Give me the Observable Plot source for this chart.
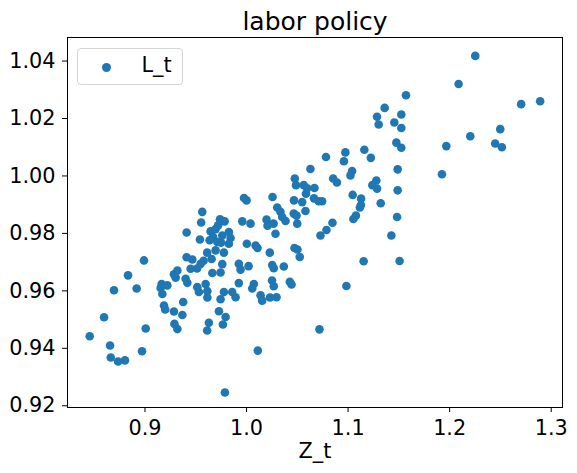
<!DOCTYPE html>
<html>
<head>
<meta charset="utf-8">
<script src="https://cdn.jsdelivr.net/npm/d3@7"></script>
<script src="https://cdn.jsdelivr.net/npm/@observablehq/plot@0.6"></script>
<style>
  html, body { margin: 0; padding: 0; background: #fff; }
  #wrap { position: relative; width: 577px; height: 473px; font-family: "DejaVu Sans", sans-serif; }
  #legend { position: absolute; left: 77px; top: 48px; width: 106px; height: 37px; box-sizing: border-box;
            border: 1px solid #d4d4d4; border-radius: 4px; background: rgba(255,255,255,0.8); z-index: 2; }
  #legend .mk { position: absolute; left: 24px; top: 13.5px; width: 9px; height: 9px; border-radius: 50%; background: #1f77b4; }
  #legend .lb { position: absolute; left: 63.5px; top: 6px; font-size: 20.8px; line-height: 1; color: #000; white-space: nowrap; }
</style>
</head>
<body>
<div id="wrap"><div id="legend"><div class="mk"></div><div class="lb"></div></div></div>
<script>
const title = "labor policy";
const xLabel = "Z_t";
const seriesName = "L_t";
const xTicks = [0.9, 1.0, 1.1, 1.2, 1.3];
const yTicks = [0.92, 0.94, 0.96, 0.98, 1.00, 1.02, 1.04];

const Z = [
0.8456,0.8597,0.8656,0.8663,0.8735,0.8803,0.8695,0.8833,0.8918,0.8971,
0.8990,0.9007,0.9164,0.9154,0.9171,0.9220,0.9187,0.9199,0.9285,0.9368,
0.9376,0.9290,0.9319,0.9285,0.9319,0.9302,0.9400,0.9417,0.9410,0.9466,
0.9449,0.9513,0.9515,0.9531,0.9410,0.9541,0.9564,0.9553,0.9548,0.9577,
0.9656,0.9612,0.9695,0.9777,0.9597,0.9614,0.9614,0.9629,0.9612,0.9663,
0.9744,0.9761,0.9728,0.9794,0.9767,0.9744,0.9777,0.9859,0.9892,0.9787,
0.9646,0.9695,0.9671,0.9761,0.9826,0.9843,0.9826,0.9749,0.9636,0.9712,
0.9739,0.9784,0.9720,0.9924,0.9941,1.0020,0.9924,1.0072,1.0056,0.9975,
1.0000,0.9958,1.0039,1.0003,1.0089,1.0108,1.0111,1.0138,1.0154,1.0231,
1.0295,1.0251,1.0268,1.0426,1.0443,1.0253,1.0268,1.0367,1.0229,1.0285,
1.0197,1.0207,1.0266,1.0256,1.0302,1.0334,1.0351,1.0384,1.0465,1.0492,
1.0499,1.0467,1.0475,1.0487,1.0472,1.0501,1.0524,1.0563,1.0597,1.0585,
1.0669,1.0548,1.0580,1.0664,1.0711,1.0744,1.0629,1.0782,1.0853,1.0890,
1.0846,1.0787,1.0728,1.0718,1.0983,1.0973,1.0959,1.1039,1.1023,1.1045,
1.1128,1.1126,1.1116,1.1077,1.1052,1.1153,1.1160,1.1224,1.1278,1.1239,
1.1285,1.1321,1.1426,1.1482,1.1488,1.1488,1.1507,1.1475,1.1524,1.1455,
1.1524,1.1524,1.1570,1.1360,1.1285,1.1301,1.1924,1.1967,1.2088,1.2203,
1.2252,1.2448,1.2514,1.2498,1.2704,1.2891
];
const L = [
0.9442,0.9508,0.9410,0.9368,0.9354,0.9358,0.9602,0.9654,0.9608,0.9390,
0.9706,0.9469,0.9624,0.9610,0.9589,0.9619,0.9549,0.9535,0.9528,0.9516,
0.9561,0.9485,0.9467,0.9658,0.9671,0.9646,0.9642,0.9628,0.9717,0.9709,
0.9677,0.9678,0.9613,0.9596,0.9803,0.9779,0.9875,0.9838,0.9694,0.9705,
0.9711,0.9733,0.9741,0.9733,0.9624,0.9599,0.9577,0.9489,0.9462,0.9662,
0.9664,0.9693,0.9529,0.9509,0.9483,0.9571,0.9596,0.9596,0.9578,0.9246,
0.9807,0.9815,0.9787,0.9793,0.9805,0.9784,0.9764,0.9768,0.9776,0.9770,
0.9849,0.9842,0.9828,0.9694,0.9674,0.9686,0.9627,0.9624,0.9608,0.9923,
0.9915,0.9842,0.9834,0.9764,0.9758,0.9749,0.9392,0.9585,0.9566,0.9577,
0.9578,0.9636,0.9616,0.9632,0.9622,0.9690,0.9679,0.9685,0.9733,0.9799,
0.9848,0.9827,0.9834,0.9927,0.9890,0.9875,0.9857,0.9843,0.9869,0.9862,
0.9834,0.9915,0.9991,0.9968,0.9749,0.9744,0.9718,0.9968,0.9957,0.9938,
0.9958,0.9909,0.9878,0.9922,0.9912,0.9912,1.0024,1.0066,0.9991,0.9977,
0.9837,0.9812,0.9793,0.9466,0.9617,1.0082,1.0051,1.0017,1.0002,0.9934,
0.9921,0.9899,0.9890,0.9862,0.9850,0.9703,1.0091,1.0063,0.9984,0.9968,
0.9956,0.9905,0.9793,0.9857,0.9950,1.0023,0.9704,1.0116,1.0098,1.0186,
1.0214,1.0167,1.0281,1.0237,1.0206,1.0179,1.0006,1.0104,1.0320,1.0138,
1.0418,1.0113,1.0100,1.0163,1.0250,1.0260
];

const data = Z.map((z, i) => ({Z: z, L: L[i]}));

const chart = Plot.plot({
  width: 577,
  height: 473,
  marginLeft: 67,
  marginRight: 15,
  marginTop: 37,
  marginBottom: 66,
  style: { fontFamily: "DejaVu Sans, sans-serif", fontSize: "20.8px", color: "#000", background: "#fff" },
  x: { domain: [0.8237, 1.3111], label: null },
  y: { domain: [0.9194, 1.0482], label: null },
  marks: [
    Plot.dot(data, { x: "Z", y: "L", r: 4.3, fill: "#1f77b4", stroke: "none" }),
    Plot.frame({ stroke: "#000", strokeWidth: 1 }),
    Plot.axisX({ ticks: xTicks, tickFormat: d3.format(".1f"), tickSize: 5, tickPadding: 8, fontSize: 20.8, stroke: "#000" }),
    Plot.axisY({ ticks: yTicks, tickFormat: d3.format(".2f"), tickSize: 5, tickPadding: 7, fontSize: 20.8, stroke: "#000" }),
    Plot.text([xLabel], { frameAnchor: "bottom", lineAnchor: "bottom", dy: 50, fontSize: 20.8, fill: "#000" }),
    Plot.text([title], { frameAnchor: "top", lineAnchor: "bottom", dy: -8, fontSize: 25, fill: "#000" })
  ]
});
document.getElementById("wrap").prepend(chart);
chart.style.position = "absolute";
chart.style.left = "0";
chart.style.top = "0";
document.querySelector("#legend .lb").textContent = seriesName;
</script>
</body>
</html>
